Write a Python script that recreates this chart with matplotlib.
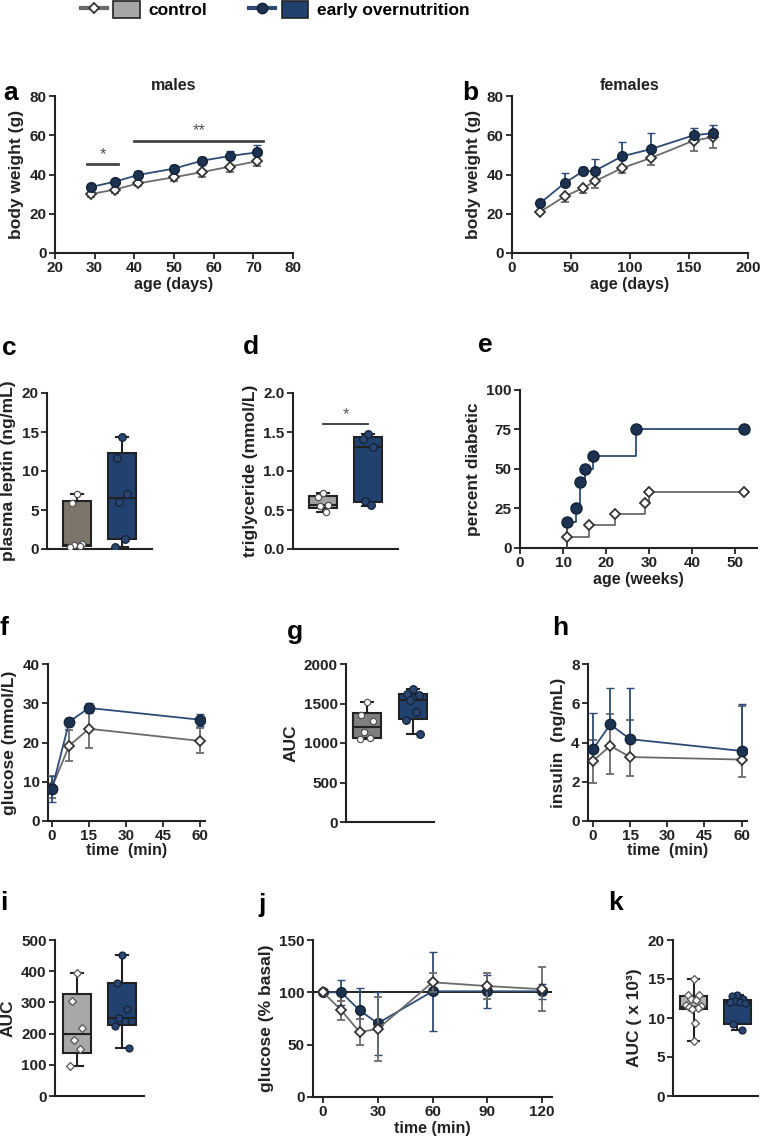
import matplotlib
matplotlib.use('Agg')
import matplotlib.pyplot as plt
from matplotlib.lines import Line2D
from matplotlib.patches import Patch
from matplotlib.legend_handler import HandlerTuple
import numpy as np

plt.rcParams['font.family'] = ['Liberation Sans', 'DejaVu Sans']
plt.rcParams['font.weight'] = 'bold'
plt.rcParams['axes.labelweight'] = 'bold'

# ---------------- data ----------------
# a: males body weight
a_age = [29, 35, 41, 50, 57, 64, 71]
a_ctrl = [30.0, 32.3, 35.5, 38.6, 41.2, 44.0, 46.8]
a_ctrl_err = [1.5, 1.5, 1.5, 2.0, 2.5, 2.5, 2.5]
a_over = [33.6, 36.3, 39.8, 43.0, 47.0, 49.4, 51.3]
a_over_err = [1.5, 1.5, 2.0, 2.0, 2.0, 2.5, 3.5]
a_sig1 = [28, 36, 45.5]
a_sig2 = [40, 72.5, 57.3]

# b: females body weight
b_age = [24, 45, 60, 70, 93, 118, 154, 170]
b_ctrl = [21.0, 29.0, 33.0, 36.5, 43.2, 48.5, 57.3, 59.0]
b_ctrl_err = [1.0, 3.0, 2.5, 3.5, 2.5, 3.5, 5.5, 5.5]
b_over = [25.5, 35.8, 41.6, 41.8, 49.2, 53.0, 60.0, 61.0]
b_over_err = [1.5, 5.0, 2.0, 6.0, 7.5, 8.0, 3.5, 4.0]

# box stats: [whislo, q1, med, q3, whishi]
c_ctrl_box = [0.3, 0.4, 0.5, 6.1, 7.1]
c_ctrl_pts = [7.1, 5.9, 0.6, 0.5, 0.4, 0.3]
c_over_box = [0.2, 1.3, 6.6, 12.3, 14.4]
c_over_pts = [14.4, 11.7, 7.0, 6.0, 1.3, 0.2]

d_ctrl_box = [0.47, 0.53, 0.57, 0.68, 0.72]
d_ctrl_pts = [0.72, 0.67, 0.57, 0.55, 0.48]
d_over_box = [0.55, 0.60, 1.31, 1.44, 1.48]
d_over_pts = [1.48, 1.41, 1.31, 0.62, 0.56]
d_sig_y = 1.6

# e: percent diabetic
e_wk_ctrl = [11, 16, 22, 29, 30, 52]
e_ctrl = [7.1, 14.3, 21.4, 28.6, 35.7, 35.7]
e_wk_over = [11, 13, 14, 15, 17, 27, 52]
e_over = [16.7, 25.0, 41.7, 50.0, 58.3, 75.0, 75.0]

# f: glucose tolerance
f_time = [0, 7, 15, 60]
f_ctrl = [8.6, 19.2, 23.5, 20.4]
f_ctrl_err = [2.8, 4.0, 5.0, 3.2]
f_over = [8.1, 25.3, 28.8, 25.8]
f_over_err = [3.3, 1.0, 1.2, 1.5]

g_ctrl_box = [1045, 1062, 1208, 1379, 1525]
g_ctrl_pts = [1525, 1354, 1275, 1142, 1062, 1050]
g_over_box = [1108, 1304, 1542, 1617, 1679]
g_over_pts = [1679, 1617, 1612, 1546, 1387, 1296, 1108]

# h: insulin (asymmetric errors: lower, upper)
h_time = [0, 7, 15, 60]
h_ctrl = [3.06, 3.83, 3.26, 3.13]
h_ctrl_err_lo = [1.1, 1.45, 0.95, 0.9]
h_ctrl_err_hi = [1.05, 1.6, 1.9, 2.75]
h_over = [3.66, 4.92, 4.17, 3.57]
h_over_err_lo = [0.0, 0.0, 0.0, 0.0]
h_over_err_hi = [1.86, 1.88, 2.6, 2.4]

i_ctrl_box = [96, 138, 199, 327, 394]
i_ctrl_pts = [394, 306, 218, 180, 152, 96]
i_over_box = [153, 226, 251, 361, 453]
i_over_pts = [453, 363, 279, 251, 241, 223, 153]

# j: insulin tolerance
j_time = [0, 10, 20, 30, 60, 90, 120]
j_ctrl = [100, 82.8, 62.1, 65.0, 109.6, 106.0, 103.0]
j_ctrl_err = [0, 9, 12, 31, 9, 12, 21]
j_over = [100, 100, 82.8, 70.4, 101, 101, 101]
j_over_err = [0, 12, 21, 30, 38, 16, 7]

k_ctrl_box = [7.0, 11.15, 11.37, 12.86, 15.0]
k_ctrl_pts = [15.0, 13.0, 12.9, 12.5, 12.3, 11.7, 11.6, 11.4, 11.3, 11.2, 9.4, 7.0]
k_over_box = [8.4, 9.2, 12.0, 12.3, 12.9]
k_over_pts = [12.9, 12.8, 12.4, 12.2, 12.1, 12.0, 11.9, 9.2, 8.4]

# ---------------- style ----------------
GRAY_LINE = '#6b6b6b'
BLUE_LINE = '#2d4b75'
BLUE_MK = '#1d3150'
BLUE_EDGE = '#142338'
BLUE_BOX = '#21426f'
DARK = '#222222'

W, H = 761, 1144
fig = plt.figure(figsize=(W / 100, H / 100), dpi=100)


def add_ax(l, r, t, b):
    return fig.add_axes([l / W, 1 - b / H, (r - l) / W, (b - t) / H])


def style(ax, boxes=False):
    for s in ['top', 'right']:
        ax.spines[s].set_visible(False)
    for s in ['left', 'bottom']:
        ax.spines[s].set_linewidth(1.5)
        ax.spines[s].set_color(DARK)
    ax.tick_params(width=1.3, length=4, labelsize=11, colors=DARK, pad=2)
    if boxes:
        ax.tick_params(axis='x', bottom=False, labelbottom=False)


def ylab(ax, text, pad=4):
    ax.set_ylabel(text, fontsize=12.5, fontweight='bold', labelpad=pad, color=DARK)


def xlab(ax, text, pad=1):
    ax.set_xlabel(text, fontsize=11.5, fontweight='bold', labelpad=pad, color=DARK)


def lines(ax, x, yc, ec, yo, eo, ms=6.5, gray_top=False, split=False):
    zc = 4 if gray_top else 3
    zo = 3 if gray_top else 4
    ec = np.asarray(ec, float)
    eo = np.asarray(eo, float)
    if split:
        ec = np.vstack([ec, np.zeros_like(ec)])
        eo = np.vstack([np.zeros_like(eo), eo])
    ax.errorbar(x, yc, yerr=ec, color=GRAY_LINE, lw=1.3, elinewidth=1.3,
                capsize=3, capthick=1.3, marker='D', ms=ms * 0.72, mfc='white',
                mec='#333333', mew=1.3, zorder=zc)
    ax.errorbar(x, yo, yerr=eo, color=BLUE_LINE, lw=1.3, elinewidth=1.3,
                capsize=3, capthick=1.3, marker='o', ms=ms, mfc=BLUE_MK,
                mec=BLUE_EDGE, mew=1.0, zorder=zo)


OFFS = [0.0, -0.12, 0.12, -0.06, 0.06, -0.16, 0.16, -0.1, 0.1, -0.03, 0.03, 0.0]


def boxes(ax, cbox, cpts, obox, opts, gray_face, width=0.64, pt_marker='o', pms=4.5):
    stats = []
    for bx in (cbox, obox):
        stats.append(dict(whislo=bx[0], q1=bx[1], med=bx[2], q3=bx[3],
                          whishi=bx[4], fliers=[]))
    bp = ax.bxp(stats, positions=[1, 2], widths=width, patch_artist=True,
                showfliers=False, capwidths=width * 0.45,
                boxprops=dict(linewidth=1.5, edgecolor=DARK),
                medianprops=dict(color=DARK, linewidth=1.5),
                whiskerprops=dict(color=DARK, linewidth=1.5),
                capprops=dict(color=DARK, linewidth=1.5))
    bp['boxes'][0].set_facecolor(gray_face)
    bp['boxes'][1].set_facecolor(BLUE_BOX)
    ax.scatter(1 + np.array(OFFS[:len(cpts)]), cpts, s=pms ** 2, marker=pt_marker,
               facecolor='white', edgecolor='#555555', linewidth=0.9, zorder=5)
    ax.scatter(2 + np.array(OFFS[:len(opts)]), opts, s=(pms + 1) ** 2, marker='o',
               facecolor='#2a4670', edgecolor=BLUE_EDGE, linewidth=0.9, zorder=5)


def box_xlim(ax, left_px_off, spacing_px):
    u = left_px_off / spacing_px
    ax.set_xlim(1 - u, 2 + u)


# ---------------- a ----------------
ax = add_ax(55, 293, 96, 253)
lines(ax, a_age, a_ctrl, a_ctrl_err, a_over, a_over_err, ms=7, split=True)
ax.set_xlim(20, 80)
ax.set_ylim(0, 80)
ax.set_xticks(range(20, 81, 10))
ax.set_yticks(range(0, 81, 20))
ax.plot(a_sig1[:2], [a_sig1[2]] * 2, color='#444444', lw=2)
ax.text(np.mean(a_sig1[:2]), a_sig1[2] + 1, '*', ha='center', va='bottom',
        fontsize=12, color='#555555', fontweight='normal')
ax.plot(a_sig2[:2], [a_sig2[2]] * 2, color='#444444', lw=2)
ax.text(np.mean(a_sig2[:2]), a_sig2[2] + 1, '**', ha='center', va='bottom',
        fontsize=12, color='#555555', fontweight='normal')
ax.set_title('males', fontsize=11.5, fontweight='bold', pad=4, color=DARK)
style(ax)
ylab(ax, 'body weight (g)')
xlab(ax, 'age (days)')

# ---------------- b ----------------
ax = add_ax(512, 748, 96, 253)
lines(ax, b_age, b_ctrl, b_ctrl_err, b_over, b_over_err, ms=7, split=True)
ax.set_xlim(0, 200)
ax.set_ylim(0, 80)
ax.set_xticks(range(0, 201, 50))
ax.set_yticks(range(0, 81, 20))
ax.set_title('females', fontsize=11.5, fontweight='bold', pad=4, color=DARK)
style(ax)
ylab(ax, 'body weight (g)')
xlab(ax, 'age (days)')

# ---------------- c ----------------
ax = add_ax(47, 152, 393, 549)
boxes(ax, c_ctrl_box, c_ctrl_pts, c_over_box, c_over_pts, '#7b7669')
box_xlim(ax, 30, 45)
ax.set_ylim(0, 20)
ax.set_yticks(range(0, 21, 5))
style(ax, boxes=True)
ylab(ax, 'plasma leptin (ng/mL)')

# ---------------- d ----------------
ax = add_ax(293, 398, 393, 549)
boxes(ax, d_ctrl_box, d_ctrl_pts, d_over_box, d_over_pts, '#a2a2a2')
box_xlim(ax, 30, 45)
ax.set_ylim(0, 2.0)
ax.set_yticks([0, 0.5, 1.0, 1.5, 2.0])
ax.set_yticklabels(['0.0', '0.5', '1.0', '1.5', '2.0'])
ax.plot([1, 2], [d_sig_y, d_sig_y], color='#333333', lw=1.3)
ax.text(1.5, d_sig_y + 0.03, '*', ha='center', va='bottom', fontsize=12,
        color='#555555', fontweight='normal')
style(ax, boxes=True)
ylab(ax, 'triglyceride (mmol/L)')

# ---------------- e ----------------
ax = add_ax(520, 757, 390, 548)
ax.step([e_wk_ctrl[0]] + e_wk_ctrl, [0] + e_ctrl, where='post', color=GRAY_LINE, lw=1.3, zorder=3)
ax.step([e_wk_over[0]] + e_wk_over, [0] + e_over, where='post', color=BLUE_LINE, lw=1.3, zorder=3)
ax.plot(e_wk_ctrl, e_ctrl, ls='none', marker='D', ms=5, mfc='white', mec='#333333', mew=1.3, zorder=4)
ax.plot(e_wk_over, e_over, ls='none', marker='o', ms=8, mfc=BLUE_MK, mec=BLUE_EDGE, mew=1.0, zorder=4)
ax.set_xlim(0, 55)
ax.set_ylim(0, 100)
ax.set_xticks(range(0, 51, 10))
ax.set_yticks([0, 25, 50, 75, 100])
style(ax)
ylab(ax, 'percent diabetic')
xlab(ax, 'age (weeks)')

# ---------------- f ----------------
ax = add_ax(48, 205, 664, 821)
lines(ax, f_time, f_ctrl, f_ctrl_err, f_over, f_over_err, ms=7.5)
ax.set_xlim(-1.6, 62)
ax.set_ylim(0, 40)
ax.set_xticks(range(0, 61, 15))
ax.set_yticks(range(0, 41, 10))
style(ax)
ylab(ax, 'glucose (mmol/L)')
xlab(ax, 'time  (min)', pad=0)

# ---------------- g ----------------
ax = add_ax(346, 434, 664, 822)
boxes(ax, g_ctrl_box, g_ctrl_pts, g_over_box, g_over_pts, '#7f7f7f', width=0.62)
box_xlim(ax, 21, 46)
ax.set_ylim(0, 2000)
ax.set_yticks(range(0, 2001, 500))
style(ax, boxes=True)
ylab(ax, 'AUC')

# ---------------- h ----------------
ax = add_ax(588, 747, 664, 821)
lines(ax, h_time, h_ctrl, [h_ctrl_err_lo, h_ctrl_err_hi], h_over,
      [h_over_err_lo, h_over_err_hi], ms=7.5)
ax.set_xlim(-2, 62.2)
ax.set_ylim(0, 8)
ax.set_xticks(range(0, 61, 15))
ax.set_yticks(range(0, 9, 2))
style(ax)
ylab(ax, 'insulin  (ng/mL)')
xlab(ax, 'time  (min)', pad=0)

# ---------------- i ----------------
ax = add_ax(55, 144, 940, 1096)
boxes(ax, i_ctrl_box, i_ctrl_pts, i_over_box, i_over_pts, '#a8a8a8', width=0.64,
      pt_marker='D', pms=4)
box_xlim(ax, 22, 45)
ax.set_ylim(0, 500)
ax.set_yticks(range(0, 501, 100))
style(ax, boxes=True)
ylab(ax, 'AUC')

# ---------------- j ----------------
ax = add_ax(313, 552, 940, 1097)
ax.axhline(100, color='#111111', lw=1.3, zorder=2)
lines(ax, j_time, j_ctrl, j_ctrl_err, j_over, j_over_err, ms=7, gray_top=True)
ax.set_xlim(-5.5, 125.5)
ax.set_ylim(0, 150)
ax.set_xticks(range(0, 121, 30))
ax.set_yticks([0, 50, 100, 150])
style(ax)
ylab(ax, 'glucose (% basal)')
xlab(ax, 'time (min)')

# ---------------- k ----------------
ax = add_ax(673, 758, 940, 1096)
boxes(ax, k_ctrl_box, k_ctrl_pts, k_over_box, k_over_pts, '#b3b3b3', width=0.6,
      pt_marker='D', pms=4)
box_xlim(ax, 21, 45)
ax.set_ylim(0, 20)
ax.set_yticks(range(0, 21, 5))
style(ax, boxes=True)
ylab(ax, 'AUC ( x 10³)')

# ---------------- panel letters ----------------
letters = [('a', 3, 93), ('b', 462, 93), ('c', 2, 348), ('d', 243, 347),
           ('e', 478, 345), ('f', 0, 628), ('g', 287, 632), ('h', 552, 628),
           ('i', 0, 903), ('j', 258, 905), ('k', 608, 903)]
for lt, x, y in letters:
    fig.text(x / W, 1 - y / H, lt, fontsize=19, fontweight='bold', ha='left',
             va='center', color='black')

# ---------------- legend ----------------
h_ctrl_line = Line2D([], [], color=GRAY_LINE, lw=3, marker='D', ms=5.5, mfc='white', mec='#333333', mew=1.3)
h_ctrl_patch = Patch(facecolor='#a6a6a6', edgecolor='#222222', lw=1.2)
h_over_line = Line2D([], [], color=BLUE_LINE, lw=3, marker='o', ms=7.5, mfc=BLUE_MK, mec=BLUE_EDGE)
h_over_patch = Patch(facecolor=BLUE_BOX, edgecolor='#222222', lw=1.2)
leg = fig.legend([(h_ctrl_line, h_ctrl_patch), (h_over_line, h_over_patch)],
                 ['control', 'early overnutrition'],
                 handler_map={tuple: HandlerTuple(ndivide=None, pad=0.35)},
                 loc='upper left', bbox_to_anchor=(80 / W, 1.0), ncol=2,
                 frameon=False, handlelength=3.4, handleheight=1.15,
                 columnspacing=2.4, handletextpad=0.5, borderaxespad=0.0,
                 borderpad=0.05,
                 prop={'weight': 'bold', 'size': 12.5})

fig.savefig('out.png', dpi=100)
